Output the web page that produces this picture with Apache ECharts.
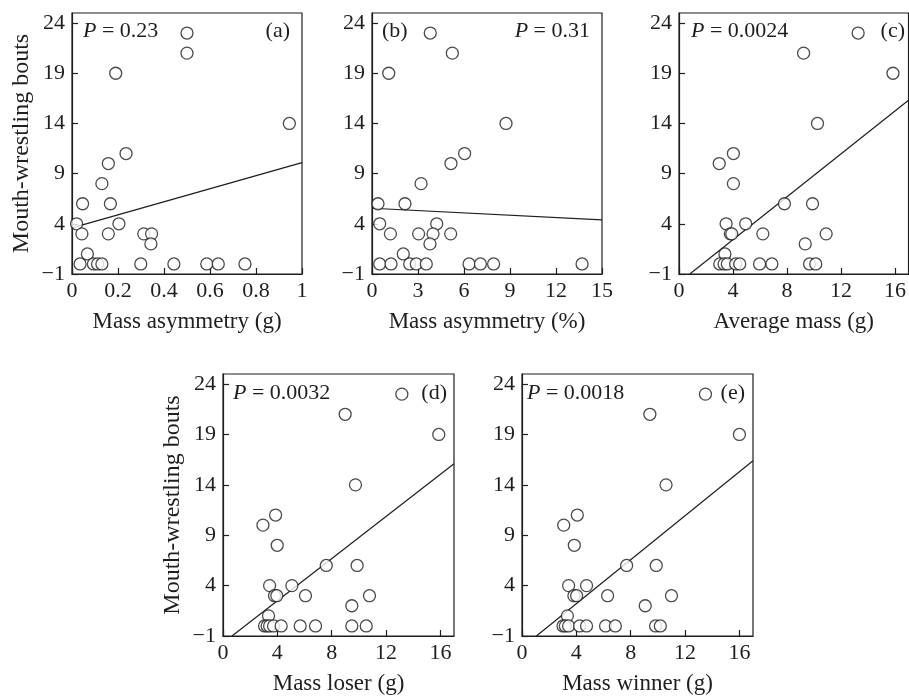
<!DOCTYPE html>
<html>
<head>
<meta charset="utf-8">
<script src="https://cdn.jsdelivr.net/npm/echarts@6/dist/echarts.min.js"></script>
<style>
  html, body { margin: 0; padding: 0; background: #fff; }
  #main { width: 909px; height: 696px; }
</style>
</head>
<body>
<div id="main"></div>
<script>
// number of mouth-wrestling bouts, same order for every panel
var bouts = [23, 21, 19, 14, 11, 10, 8, 6, 6, 4, 4, 3, 3, 3, 3, 2, 1, 0, 0, 0, 0, 0, 0, 0, 0, 0];

var massAsymG = [0.50, 0.50, 0.19, 0.945, 0.235, 0.158, 0.13, 0.046, 0.167, 0.02, 0.204, 0.043, 0.158, 0.312, 0.346, 0.343, 0.067,
    0.035, 0.093, 0.111, 0.13, 0.299, 0.443, 0.586, 0.636, 0.752];
var massAsymPct = [3.8, 5.24, 1.09, 8.74, 6.04, 5.15, 3.2, 0.39, 2.15, 0.5, 4.22, 1.2, 3.04, 3.98, 5.13, 3.78, 2.04,
    0.5, 1.24, 2.46, 2.89, 3.54, 6.33, 7.07, 7.93, 13.7];
var avgMass = [13.27, 9.23, 15.85, 10.26, 4.03, 2.98, 4.03, 7.81, 9.89, 3.49, 4.94, 3.8, 3.91, 6.21, 10.9, 9.35, 3.4,
    3.02, 3.34, 3.58, 4.2, 4.5, 5.97, 6.88, 9.67, 10.13];
var massLoser = [13.16, 8.99, 15.88, 9.75, 3.87, 2.94, 3.99, 7.6, 9.87, 3.43, 5.07, 3.79, 3.96, 6.07, 10.78, 9.48, 3.35,
    3.06, 3.25, 3.43, 3.72, 4.28, 5.68, 6.81, 9.48, 10.54];
var massWinner = [13.5, 9.41, 16.0, 10.6, 4.07, 3.07, 3.85, 7.7, 9.88, 3.43, 4.75, 3.82, 4.02, 6.3, 11.0, 9.07, 3.34,
    3.02, 3.19, 3.43, 4.24, 4.75, 6.15, 6.87, 9.83, 10.18];

// regression line end points
var fitA = [[0, 3.6], [1, 10.1]];
var fitB = [[0, 5.55], [15, 4.4]];
var fitC = [[0.8, -1], [17, 16.3]];
var fitD = [[0.66, -1], [17, 16.1]];
var fitE = [[1.06, -1], [17, 16.4]];

var yTicks = [-1, 4, 9, 14, 19, 24];
var xTicksA = [0, 0.2, 0.4, 0.6, 0.8, 1];
var xTicksB = [0, 3, 6, 9, 12, 15];
var xTicksMass = [0, 4, 8, 12, 16];

var xNames = ['Mass asymmetry (g)', 'Mass asymmetry (%)', 'Average mass (g)', 'Mass loser (g)', 'Mass winner (g)'];
var pValues = ['0.23', '0.31', '0.0024', '0.0032', '0.0018'];
var panelTags = ['(a)', '(b)', '(c)', '(d)', '(e)'];
var yName = 'Mouth-wrestling bouts';

var chart = echarts.init(document.getElementById('main'));

var font = 'Liberation Serif';
var ink = '#1e1e1e';

var grids = [
    { left: 72, top: 13, width: 230, height: 261 },
    { left: 372, top: 13, width: 230, height: 261 },
    { left: 679, top: 13, width: 231, height: 261 },
    { left: 223, top: 374, width: 231, height: 262 },
    { left: 522, top: 374, width: 231, height: 262 }
];
grids.forEach(function (g) {
    g.show = true;
    g.borderColor = ink;
    g.borderWidth = 1.2;
    g.containLabel = false;
});

function fmt(v) {
    return String(v).replace('-', '\u2212');
}

function makeX(i, max, ticks) {
    return {
        type: 'value', gridIndex: i, min: 0, max: max,
        name: xNames[i], nameLocation: 'middle', nameGap: 36,
        nameTextStyle: { fontFamily: font, fontSize: 23, color: ink },
        axisLine: { show: true, onZero: false, lineStyle: { color: ink, width: 1.2 } },
        axisTick: { show: true, inside: true, length: 6, customValues: ticks, lineStyle: { color: ink, width: 1.2 } },
        axisLabel: { customValues: ticks, fontFamily: font, fontSize: 22, color: ink, margin: 6, formatter: fmt },
        splitLine: { show: false }
    };
}

function makeY(i, showName) {
    return {
        type: 'value', gridIndex: i, min: -1, max: 25,
        name: showName ? yName : '', nameLocation: 'middle', nameGap: 38,
        nameTextStyle: { fontFamily: font, fontSize: 24, color: ink },
        axisLine: { show: true, onZero: false, lineStyle: { color: ink, width: 1.2 } },
        axisTick: { show: true, inside: true, length: 6, customValues: yTicks, lineStyle: { color: ink, width: 1.2 } },
        axisLabel: { customValues: yTicks, fontFamily: font, fontSize: 22, color: ink, margin: 7, formatter: fmt },
        splitLine: { show: false }
    };
}

var xs = [massAsymG, massAsymPct, avgMass, massLoser, massWinner];
var fits = [fitA, fitB, fitC, fitD, fitE];

var series = [];
xs.forEach(function (xv, i) {
    series.push({
        type: 'line', xAxisIndex: i, yAxisIndex: i,
        data: fits[i], symbol: 'none', silent: true, clip: true,
        lineStyle: { color: ink, width: 1.2 }, z: 2
    });
    series.push({
        type: 'scatter', xAxisIndex: i, yAxisIndex: i,
        data: xv.map(function (x, k) { return [x, bouts[k]]; }),
        symbol: 'circle', symbolSize: 12,
        itemStyle: { color: '#fff', borderColor: ink, borderWidth: 1.3 }, z: 3
    });
});

// P value and panel tag placement
var pPos = [[83, 31, 'left'], [590, 31, 'right'], [691, 31, 'left'], [233, 393, 'left'], [527, 393, 'left']];
var tagPos = [[290, 31, 'right'], [382, 31, 'left'], [905, 31, 'right'], [447, 393, 'right'], [745, 393, 'right']];

var graphic = [];
pValues.forEach(function (p, i) {
    graphic.push({
        type: 'text', z: 10,
        style: {
            x: pPos[i][0], y: pPos[i][1], align: pPos[i][2], verticalAlign: 'middle',
            text: '{i|P} = ' + p,
            fontFamily: font, fontSize: 22, fill: ink,
            rich: { i: { fontStyle: 'italic', fontFamily: font, fontSize: 22, fill: ink } }
        }
    });
    graphic.push({
        type: 'text', z: 10,
        style: {
            x: tagPos[i][0], y: tagPos[i][1], align: tagPos[i][2], verticalAlign: 'middle',
            text: panelTags[i], fontFamily: font, fontSize: 22, fill: ink
        }
    });
});

chart.setOption({
    animation: false,
    backgroundColor: '#fff',
    grid: grids,
    xAxis: [makeX(0, 1, xTicksA), makeX(1, 15, xTicksB), makeX(2, 17, xTicksMass), makeX(3, 17, xTicksMass), makeX(4, 17, xTicksMass)],
    yAxis: [makeY(0, true), makeY(1, false), makeY(2, false), makeY(3, true), makeY(4, false)],
    series: series,
    graphic: graphic
});
</script>
</body>
</html>
